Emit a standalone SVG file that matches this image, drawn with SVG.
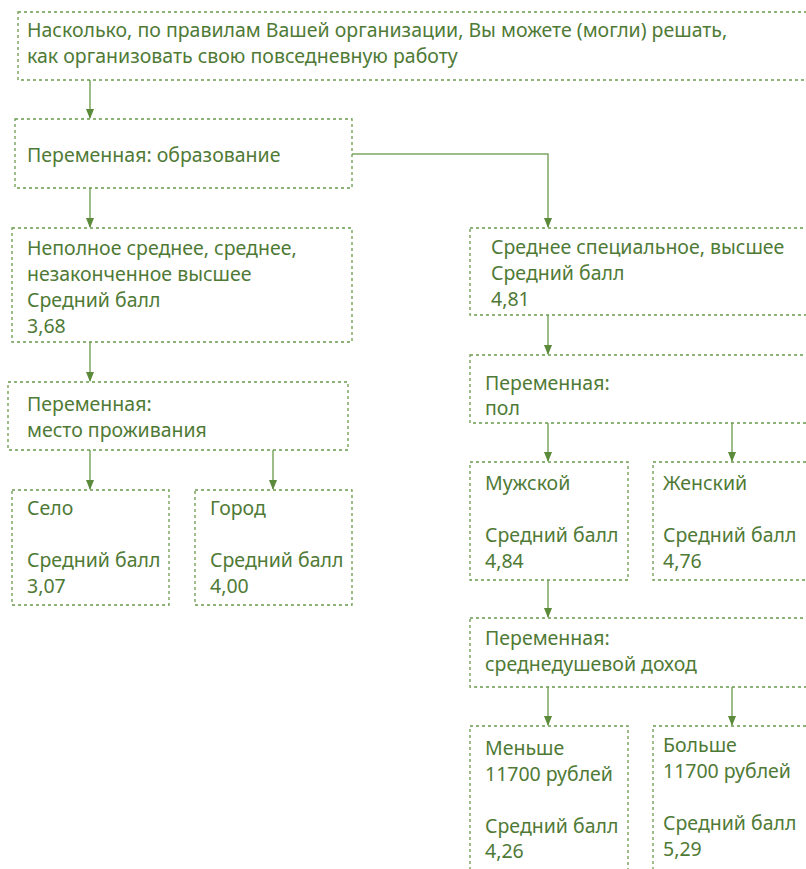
<svg xmlns="http://www.w3.org/2000/svg" width="806" height="869" viewBox="0 0 806 869">
<defs>
<style>
.box{fill:#fff;stroke:#6a9a4c;stroke-width:1.3;stroke-dasharray:3,3}
.t{font-family:"Noto Sans","Open Sans","DejaVu Sans",sans-serif;font-size:19.5px;fill:#4f7a36}
.c{fill:none;stroke:#7ea663;stroke-width:1.5}
</style>
<marker id="ah" markerWidth="10" markerHeight="10" refX="9" refY="4" orient="auto" markerUnits="userSpaceOnUse">
<path d="M0,0 L10,4 L0,8 Z" fill="#5a8a3a"/>
</marker>
</defs>
<rect width="806" height="869" fill="#fff"/>
<g id="connectors">
<path class="c" d="M90,80 V118" marker-end="url(#ah)"/>
<path class="c" d="M352,154 H548 V227" marker-end="url(#ah)"/>
<path class="c" d="M90,188 V227" marker-end="url(#ah)"/>
<path class="c" d="M90,342 V381" marker-end="url(#ah)"/>
<path class="c" d="M90,450 V489" marker-end="url(#ah)"/>
<path class="c" d="M273,450 V489" marker-end="url(#ah)"/>
<path class="c" d="M548,315 V354" marker-end="url(#ah)"/>
<path class="c" d="M548,423 V461" marker-end="url(#ah)"/>
<path class="c" d="M732,423 V461" marker-end="url(#ah)"/>
<path class="c" d="M548,580 V617" marker-end="url(#ah)"/>
<path class="c" d="M548,687 V725" marker-end="url(#ah)"/>
<path class="c" d="M732,687 V725" marker-end="url(#ah)"/>
</g>
<g id="question">
<rect class="box" x="18" y="12" width="800" height="68"/>
<text class="t" x="27" y="37">Насколько, по правилам Вашей организации, Вы можете (могли) решать,</text>
<text class="t" x="27" y="63">как организовать свою повседневную работу</text>
</g>
<g id="var-education">
<rect class="box" x="15" y="119" width="337" height="69"/>
<text class="t" x="27" y="162">Переменная: образование</text>
</g>
<g id="edu-low">
<rect class="box" x="12" y="228" width="340" height="114"/>
<text class="t" x="27" y="255">Неполное среднее, среднее,</text>
<text class="t" x="27" y="281">незаконченное высшее</text>
<text class="t" x="27" y="307">Средний балл</text>
<text class="t" x="27" y="333">3,68</text>
</g>
<g id="var-residence">
<rect class="box" x="8" y="382" width="340" height="68"/>
<text class="t" x="27" y="411">Переменная:</text>
<text class="t" x="27" y="437">место проживания</text>
</g>
<g id="village">
<rect class="box" x="12" y="490" width="157" height="115"/>
<text class="t" x="27" y="515">Село</text>
<text class="t" x="27" y="567">Средний балл</text>
<text class="t" x="27" y="593">3,07</text>
</g>
<g id="city">
<rect class="box" x="195" y="490" width="157" height="115"/>
<text class="t" x="210" y="515">Город</text>
<text class="t" x="210" y="567">Средний балл</text>
<text class="t" x="210" y="593">4,00</text>
</g>
<g id="edu-high">
<rect class="box" x="470" y="228" width="350" height="87"/>
<text class="t" x="491" y="254">Среднее специальное, высшее</text>
<text class="t" x="491" y="280">Средний балл</text>
<text class="t" x="491" y="306">4,81</text>
</g>
<g id="var-sex">
<rect class="box" x="470" y="355" width="350" height="68"/>
<text class="t" x="485" y="390">Переменная:</text>
<text class="t" x="485" y="415">пол</text>
</g>
<g id="male">
<rect class="box" x="470" y="462" width="158" height="118"/>
<text class="t" x="485" y="490">Мужской</text>
<text class="t" x="485" y="542">Средний балл</text>
<text class="t" x="485" y="568">4,84</text>
</g>
<g id="female">
<rect class="box" x="653" y="462" width="170" height="118"/>
<text class="t" x="663" y="490">Женский</text>
<text class="t" x="663" y="542">Средний балл</text>
<text class="t" x="663" y="568">4,76</text>
</g>
<g id="var-income">
<rect class="box" x="470" y="618" width="350" height="69"/>
<text class="t" x="485" y="645">Переменная:</text>
<text class="t" x="485" y="671">среднедушевой доход</text>
</g>
<g id="income-low">
<rect class="box" x="470" y="726" width="158" height="160"/>
<text class="t" x="485" y="755">Меньше</text>
<text class="t" x="485" y="781">11700 рублей</text>
<text class="t" x="485" y="833">Средний балл</text>
<text class="t" x="485" y="858">4,26</text>
</g>
<g id="income-high">
<rect class="box" x="653" y="726" width="170" height="160"/>
<text class="t" x="663" y="752">Больше</text>
<text class="t" x="663" y="778">11700 рублей</text>
<text class="t" x="663" y="830">Средний балл</text>
<text class="t" x="663" y="856">5,29</text>
</g>
</svg>
